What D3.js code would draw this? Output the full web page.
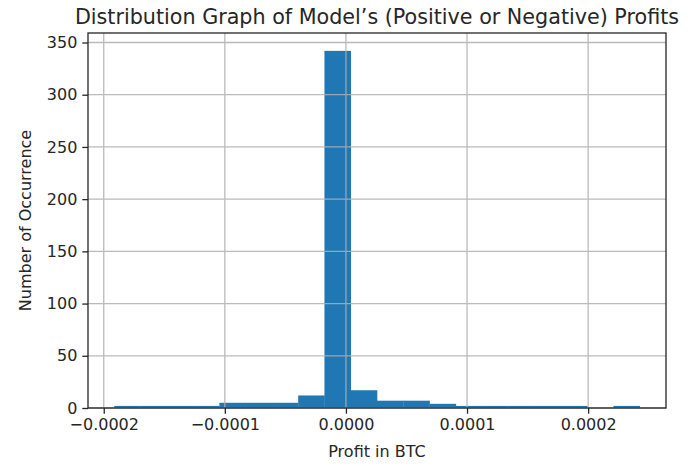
<!DOCTYPE html>
<html>
<head>
<meta charset="utf-8">
<script src="https://cdn.jsdelivr.net/npm/d3@7"></script>
<style>
  html, body { margin: 0; padding: 0; background: #fff; }
  text { font-family: "DejaVu Sans", sans-serif; fill: #262626; }
</style>
</head>
<body>
<svg id="chart" width="699" height="466"></svg>
<script>
// ---- data ----
const binEdgeMin = -0.0001913;   // left edge of first bin (BTC)
const binEdgeMax = 0.0002426;    // right edge of last bin (BTC)
const binCounts = [2, 2, 2, 2, 5, 5, 5, 12, 342, 17, 7, 7, 4, 2, 2, 2, 2, 2, 0, 2];
const xTickValues = [-0.0002, -0.0001, 0.0000, 0.0001, 0.0002];
const xTickLabels = ["−0.0002", "−0.0001", "0.0000", "0.0001", "0.0002"];
const yTickValues = [0, 50, 100, 150, 200, 250, 300, 350];
const titleText = "Distribution Graph of Model’s (Positive or Negative) Profits";
const xLabelText = "Profit in BTC";
const yLabelText = "Number of Occurrence";

// ---- layout ----
const svg = d3.select("#chart");
const m = { left: 88, right: 666, top: 33, bottom: 408 };
const nb = binCounts.length;
const bw = (binEdgeMax - binEdgeMin) / nb;
const bins = binCounts.map((c, i) => ({ x0: binEdgeMin + i * bw, x1: binEdgeMin + (i + 1) * bw, c }));

const span = binEdgeMax - binEdgeMin;
const x = d3.scaleLinear()
  .domain([binEdgeMin - 0.05 * span, binEdgeMax + 0.05 * span])
  .range([m.left, m.right]);
const y = d3.scaleLinear()
  .domain([0, d3.max(binCounts) * 1.05])
  .range([m.bottom, m.top]);

// bars
svg.append("g").selectAll("rect").data(bins).join("rect")
  .attr("x", d => x(d.x0))
  .attr("width", d => x(d.x1) - x(d.x0) + 0.3)
  .attr("y", d => y(d.c))
  .attr("height", d => y(0) - y(d.c))
  .attr("fill", "#1f77b4");

// grid (drawn over bars like matplotlib)
const grid = svg.append("g").attr("stroke", "#b0b0b0").attr("stroke-width", 1.3).attr("opacity", 0.85);
grid.selectAll("line.gx").data(xTickValues).join("line")
  .attr("x1", d => x(d)).attr("x2", d => x(d))
  .attr("y1", m.top).attr("y2", m.bottom);
grid.selectAll("line.gy").data(yTickValues).join("line")
  .attr("y1", d => y(d)).attr("y2", d => y(d))
  .attr("x1", m.left).attr("x2", m.right);

// axes
const xAxis = d3.axisBottom(x).tickValues(xTickValues)
  .tickFormat((d, i) => xTickLabels[i]).tickSizeInner(5.7).tickSizeOuter(0).tickPadding(5);
const yAxis = d3.axisLeft(y).tickValues(yTickValues)
  .tickFormat(d3.format("d")).tickSizeInner(5.7).tickSizeOuter(0).tickPadding(5);

const gx = svg.append("g").attr("transform", `translate(0,${m.bottom})`).call(xAxis);
const gy = svg.append("g").attr("transform", `translate(${m.left},0)`).call(yAxis);
[gx, gy].forEach(g => {
  g.select(".domain").remove();
  g.selectAll(".tick line").attr("stroke", "#262626").attr("stroke-width", 1.3);
  g.selectAll(".tick text").attr("font-size", 16).attr("font-family", "DejaVu Sans").attr("fill", "#262626");
});

// frame
svg.append("rect")
  .attr("x", m.left).attr("y", m.top)
  .attr("width", m.right - m.left).attr("height", m.bottom - m.top)
  .attr("fill", "none").attr("stroke", "#262626").attr("stroke-width", 1.3);

// title & labels
svg.append("text").attr("x", (m.left + m.right) / 2).attr("y", 24)
  .attr("text-anchor", "middle").attr("font-size", 20.7).text(titleText);
svg.append("text").attr("x", (m.left + m.right) / 2).attr("y", 457)
  .attr("text-anchor", "middle").attr("font-size", 16).text(xLabelText);
svg.append("text").attr("transform", `translate(31,${(m.top + m.bottom) / 2}) rotate(-90)`)
  .attr("text-anchor", "middle").attr("font-size", 16).text(yLabelText);
</script>
</body>
</html>
